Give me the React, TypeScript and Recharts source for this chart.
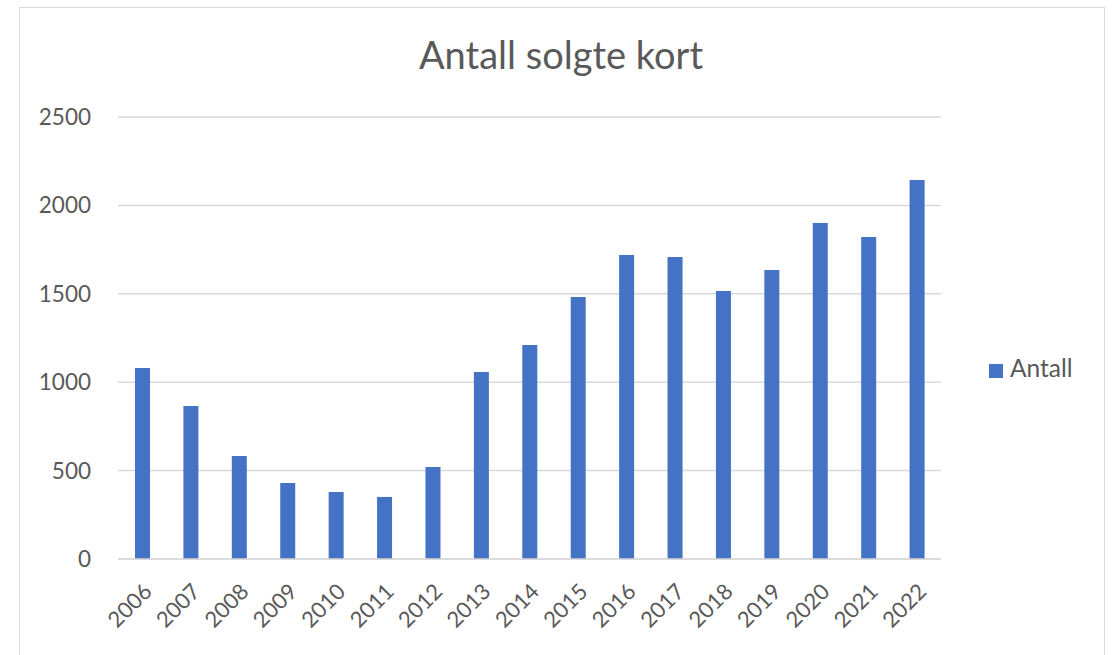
import { BarChart, Bar, XAxis, YAxis, CartesianGrid, Legend } from 'recharts'

const years = ['2006', '2007', '2008', '2009', '2010', '2011', '2012', '2013', '2014', '2015', '2016', '2017', '2018', '2019', '2020', '2021', '2022']
const antall = [1080, 865, 583, 430, 379, 351, 520, 1058, 1210, 1482, 1719, 1708, 1516, 1635, 1900, 1821, 2144]
const yTicks = [0, 500, 1000, 1500, 2000, 2500]

const data = years.map((year, i) => ({ year, Antall: antall[i] }))

const FONT = 'Lato, "Open Sans", sans-serif'
const GREY = '#595959'

function YearTick({ x, y, payload }: any) {
  return (
    <text
      x={x + 5}
      y={y + 20}
      transform={`rotate(-45, ${x + 5}, ${y + 20})`}
      textAnchor="end"
      dominantBaseline="central"
      fontSize={22}
      fill={GREY}
      fontFamily={FONT}
    >
      {payload.value}
    </text>
  )
}

export default function App() {
  return (
    <div style={{ position: 'absolute', left: 0, top: 0, width: 1114, height: 655, background: '#fff', overflow: 'hidden', fontFamily: FONT }}>
      <div style={{ position: 'absolute', left: 19, top: 7, width: 1086, height: 700, border: '1px solid #d9d9d9', boxSizing: 'border-box' }} />
      <div style={{ position: 'absolute', left: 0, width: 1122, top: 31, textAlign: 'center', fontSize: 38, color: GREY }}>
        Antall solgte kort
      </div>
      <BarChart width={1114} height={655} data={data} margin={{ top: 117, right: 53, bottom: 16, left: 28 }} barSize={15}>
        <CartesianGrid vertical={false} stroke="#d9d9d9" strokeWidth={1.5} />
        <XAxis dataKey="year" tick={<YearTick />} tickLine={false} axisLine={{ stroke: '#d9d9d9', strokeWidth: 1.5 }} height={80} interval={0} />
        <YAxis
          width={90}
          domain={[0, 2500]}
          ticks={yTicks}
          tickLine={false}
          axisLine={false}
          tickMargin={21}
          tick={{ fontSize: 22.5, fill: GREY, fontFamily: FONT }}
        />
        <Legend
          layout="vertical"
          align="right"
          verticalAlign="middle"
          iconType="square"
          iconSize={14}
          wrapperStyle={{ position: 'absolute', left: 989, top: 353, width: 120, fontSize: 24.5, color: GREY }}
          formatter={(v: string) => <span style={{ color: GREY, marginLeft: 3 }}>{v}</span>}
        />
        <Bar dataKey="Antall" fill="#4472C4" isAnimationActive={false} />
      </BarChart>
    </div>
  )
}
